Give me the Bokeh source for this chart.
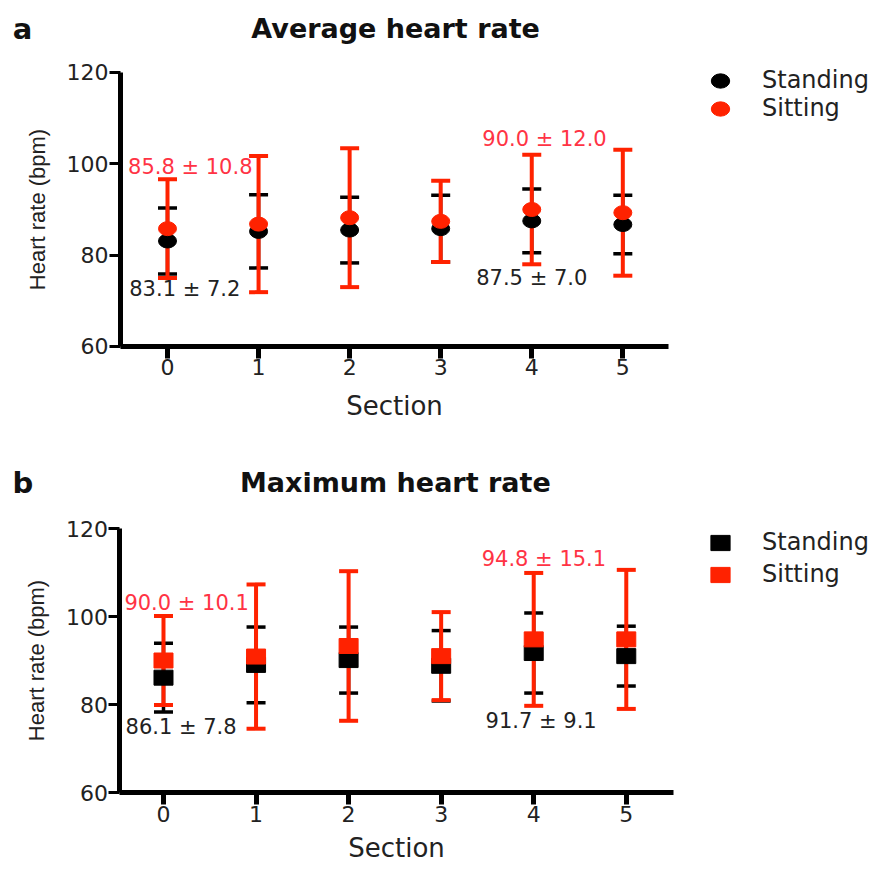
from bokeh.plotting import figure
from bokeh.models import (Whisker, ColumnDataSource, Label, Legend, LegendItem,
                          FixedTicker, TeeHead, Range1d)
from bokeh.layouts import column
from bokeh.embed import file_html
from bokeh.resources import INLINE

# ---------------- data ----------------
sections = [0, 1, 2, 3, 4, 5]

avg_standing_mean = [83.1, 85.2, 85.5, 85.8, 87.5, 86.7]
avg_standing_sd = [7.2, 8.0, 7.2, 7.3, 7.0, 6.4]
avg_sitting_mean = [85.8, 86.8, 88.2, 87.4, 90.0, 89.3]
avg_sitting_sd = [10.8, 14.9, 15.2, 8.9, 12.0, 13.8]

max_standing_mean = [86.1, 89.0, 90.1, 88.8, 91.7, 91.0]
max_standing_sd = [7.8, 8.6, 7.5, 8.0, 9.1, 6.8]
max_sitting_mean = [90.0, 90.9, 93.3, 91.0, 94.8, 94.8]
max_sitting_sd = [10.1, 16.4, 17.0, 10.0, 15.1, 15.8]

y_ticks = [60, 80, 100, 120]
annotated_sections = [0, 4]
series_names = ["Standing", "Sitting"]

BLACK = "#000000"
RED = "#ff2200"
RED_TEXT = "#ff3344"
TEXT = "#222222"
FONT = "DejaVu Sans"
W = 868


def make_panel(letter, title, s_mean, s_sd, t_mean, t_sd, marker,
               height, xr, yr, yaxis_x, xaxis_end, title_y, letter_x,
               lbl_pos, legend_loc, legend_spacing, xlabel_standoff):
    p = figure(width=W, height=height,
               x_range=Range1d(*xr), y_range=Range1d(*yr),
               min_border_left=0, min_border_right=0,
               min_border_top=0, min_border_bottom=0,
               output_backend="svg", toolbar_location=None, tools="")
    p.outline_line_color = None
    p.grid.visible = False
    p.background_fill_color = "white"
    p.border_fill_color = "white"

    xa, ya = p.xaxis[0], p.yaxis[0]
    xa.fixed_location = 60
    ya.fixed_location = yaxis_x
    xa.bounds = (yaxis_x, xaxis_end)
    ya.bounds = (60, 120)
    for ax in (xa, ya):
        ax.axis_line_width = 5
        ax.axis_line_color = BLACK
        ax.major_tick_line_color = BLACK
        ax.major_tick_in = 0
        ax.minor_tick_line_color = None
        ax.major_label_text_font = FONT
        ax.major_label_text_font_size = "22px"
        ax.major_label_text_color = TEXT
        ax.major_label_standoff = 1
        ax.axis_label_text_color = TEXT
        ax.axis_label_text_font_style = "normal"
    xa.major_tick_line_width = 5
    xa.major_tick_out = 12
    ya.major_tick_line_width = 3
    ya.major_tick_out = 11
    xa.ticker = FixedTicker(ticks=sections)
    ya.ticker = FixedTicker(ticks=y_ticks)
    xa.axis_label = "Section"
    xa.axis_label_text_font = FONT
    xa.axis_label_text_font_size = "26px"
    xa.axis_label_standoff = xlabel_standoff
    ya.axis_label = "Heart rate (bpm)"
    ya.axis_label_text_font = "Liberation Sans"
    ya.axis_label_text_font_size = "22px"
    ya.axis_label_standoff = 14

    src_s = ColumnDataSource(dict(x=sections, y=s_mean,
                                  lo=[m - s for m, s in zip(s_mean, s_sd)],
                                  hi=[m + s for m, s in zip(s_mean, s_sd)]))
    src_t = ColumnDataSource(dict(x=sections, y=t_mean,
                                  lo=[m - s for m, s in zip(t_mean, t_sd)],
                                  hi=[m + s for m, s in zip(t_mean, t_sd)]))

    def whisk(src, color, w):
        return Whisker(source=src, base="x", upper="hi", lower="lo",
                       line_color=color, line_width=w,
                       upper_head=TeeHead(size=19, line_color=color, line_width=w),
                       lower_head=TeeHead(size=19, line_color=color, line_width=w))

    def points(src, color):
        if marker == "circle":
            return p.ellipse("x", "y", source=src, width=18, height=14,
                             width_units="screen", height_units="screen",
                             fill_color=color, line_color=color)
        return p.rect("x", "y", source=src, width=19, height=15,
                      width_units="screen", height_units="screen",
                      fill_color=color, line_color=color)

    p.add_layout(whisk(src_s, BLACK, 3.5))
    r_s = points(src_s, BLACK)
    p.add_layout(whisk(src_t, RED, 4))
    r_t = points(src_t, RED)

    # mean ± SD annotations
    for i, sec in enumerate(annotated_sections):
        (sx, sy), (tx, ty) = lbl_pos[i]
        p.add_layout(Label(x=sx, y=sy, text=f"{s_mean[sec]:.1f} ± {s_sd[sec]:.1f}",
                           text_font=FONT, text_font_size="21px", text_color=TEXT,
                           text_align="center", text_baseline="middle"))
        p.add_layout(Label(x=tx, y=ty, text=f"{t_mean[sec]:.1f} ± {t_sd[sec]:.1f}",
                           text_font=FONT, text_font_size="21px", text_color=RED_TEXT,
                           text_align="center", text_baseline="middle"))

    p.add_layout(Label(x=2.505, y=title_y, text=title, text_font=FONT,
                       text_font_size="27px", text_font_style="bold",
                       text_color="#111111", text_align="center",
                       text_baseline="middle"))
    p.add_layout(Label(x=letter_x, y=title_y, text=letter, text_font=FONT,
                       text_font_size="29px", text_font_style="bold",
                       text_color="#111111", text_align="left",
                       text_baseline="middle"))

    gh = 23 if marker == "circle" else 19
    legend = Legend(items=[LegendItem(label=series_names[0], renderers=[r_s]),
                           LegendItem(label=series_names[1], renderers=[r_t])],
                    glyph_width=24, glyph_height=gh, spacing=legend_spacing,
                    label_standoff=30, padding=0, margin=0,
                    border_line_color=None, background_fill_alpha=0,
                    label_text_font=FONT, label_text_font_size="24px",
                    label_text_color=TEXT, location=legend_loc)
    p.add_layout(legend)
    return p


pa = make_panel("a", "Average heart rate",
                avg_standing_mean, avg_standing_sd, avg_sitting_mean, avg_sitting_sd,
                "circle", 424, (-1.834, 7.698), (42.92, 135.76), -0.516, 5.50,
                129.6, -1.70,
                [((0.19, 72.5), (0.25, 99.2)), ((4.0, 75.1), (4.14, 105.5))],
                (708, 302), 0, 12)
pb = make_panel("b", "Maximum heart rate",
                max_standing_mean, max_standing_sd, max_sitting_mean, max_sitting_sd,
                "square", 441, (-1.761, 7.617), (43.41, 143.64), -0.470, 5.51,
                130.45, -1.63,
                [((0.19, 75.0), (0.25, 103.0)), ((4.08, 76.2), (4.11, 113.0))],
                (708, 277), 4, 8)

layout = column(pa, pb, spacing=0)
open("out.html", "w").write(file_html(layout, INLINE))
